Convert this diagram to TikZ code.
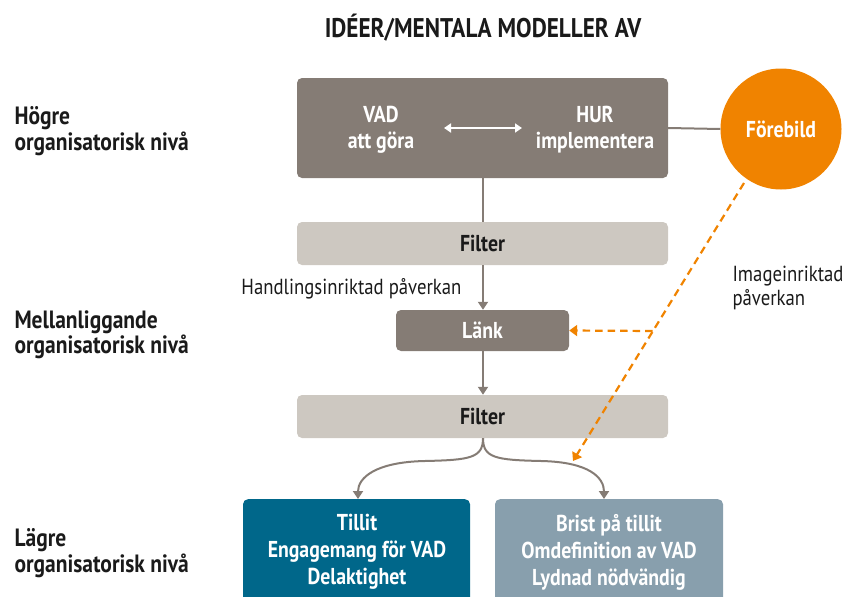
\documentclass[tikz,border=0pt]{standalone}
\usepackage{fontspec}
\setmainfont[FakeStretch=0.86]{PT Sans}
\usetikzlibrary{arrows.meta}
\definecolor{dgray}{HTML}{857C75}
\definecolor{lgray}{HTML}{CDC8C1}
\definecolor{orng}{HTML}{F08300}
\definecolor{teal}{HTML}{00678A}
\definecolor{bgray}{HTML}{889FAD}
\definecolor{txt}{HTML}{1A1A1A}
\begin{document}
\begin{tikzpicture}[x=1pt,y=-1pt,
  box/.style={rounded corners=5pt,inner sep=0pt,font=\fontsize{23}{26}\selectfont\bfseries},
  btxt/.style={text=white,align=center,font=\fontsize{23}{26}\selectfont\bfseries},
  lvl/.style={anchor=west,align=left,text=txt,font=\fontsize{25}{25.5}\selectfont\bfseries},
  conn/.style={draw=dgray,line width=2pt},
  gtip/.style={-{Triangle[width=10pt,length=8pt]}},
  odash/.style={draw=orng,line width=2.2pt,dash pattern=on 7.5pt off 5pt,-{Triangle[width=11pt,length=8pt]}},
  note/.style={text=txt,font=\fontsize{21.8}{24}\selectfont}]
\useasboundingbox (0,0) rectangle (847,597);
\node[text=txt,font=\fontsize{27}{28}\selectfont\bfseries] (title) at (483,28) {IDÉER/MENTALA MODELLER AV};
% top box
\node[box,fill=dgray,minimum width=371pt,minimum height=100pt] (top) at (482.5,128) {};
\node[btxt] (vad) at (381,130) {VAD\\att göra};
\node[btxt] (hur) at (595,130) {HUR\\implementera};
\coordinate (da) at (444,128);
\coordinate (db) at (522,128);
\draw[white,line width=2pt,{Triangle[width=9pt,length=7pt]}-{Triangle[width=9pt,length=7pt]}] (da) -- (db);
% circle
\node[circle,fill=orng,minimum size=121pt,inner sep=0pt,text=white,font=\fontsize{23}{26}\selectfont\bfseries] (fb) at (781,129) {Förebild};
\draw[conn] (top.east |- 0,128) -- (fb.west);
% filter 1
\node[box,fill=lgray,minimum width=371pt,minimum height=43pt,text=txt] (f1) at (482.5,243.5) {Filter};
\draw[conn] (top.south -| 483,0) -- (f1.north -| 483,0);
% link
\node[box,fill=dgray,minimum width=173pt,minimum height=41pt,text=white] (lank) at (482.5,330.5) {Länk};
\draw[conn,gtip] (f1.south -| 483,0) -- (lank.north -| 483,0);
\node[note,anchor=east] (hp) at (465,289) {Handlingsinriktad påverkan};
% filter 2
\node[box,fill=lgray,minimum width=371pt,minimum height=43pt,text=txt] (f2) at (482.5,416.5) {Filter};
\draw[conn,gtip] (lank.south -| 483,0) -- (f2.north -| 483,0);
% bottom boxes
\node[box,fill=teal,minimum width=227pt,minimum height=110pt,anchor=north] (tl) at (356.5,499) {};
\node[box,fill=bgray,minimum width=228pt,minimum height=110pt,anchor=north] (br) at (609,499) {};
\node[btxt,font=\fontsize{23}{27}\selectfont\bfseries] (tlt) at (357,552) {Tillit\\Engagemang för VAD\\Delaktighet};
\node[btxt,font=\fontsize{23}{27}\selectfont\bfseries] (brt) at (609,552) {Brist på tillit\\Omdefinition av VAD\\Lydnad nödvändig};
\coordinate (ta) at (358,499);
\coordinate (tb) at (604,499);
\draw[conn,gtip] (f2.south -| 483,0) .. controls (483,458) and (470,460) .. (425,461) .. controls (375,462) and (358,478) .. (ta);
\draw[conn,gtip] (f2.south -| 483,0) .. controls (483,458) and (496,460) .. (541,461) .. controls (590,462) and (604,478) .. (tb);
% orange dashed
\coordinate (o1) at (744,183);
\coordinate (o2) at (573,461);
\coordinate (om) at (652.6,331);
\draw[odash] (o1) -- (o2);
\draw[odash] (om) -- (lank.east);
\node[note,anchor=west,align=left] (ip) at (729,288) {Imageinriktad\\påverkan};
% level labels
\node[lvl] (l1) at (11,131) {Högre\\organisatorisk nivå};
\node[lvl] (l2) at (11,335) {Mellanliggande\\organisatorisk nivå};
\node[lvl] (l3) at (11,553) {Lägre\\organisatorisk nivå};
\end{tikzpicture}
\end{document}
